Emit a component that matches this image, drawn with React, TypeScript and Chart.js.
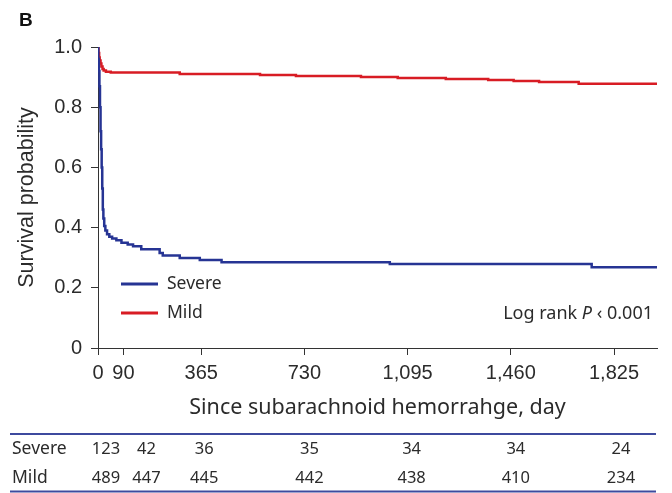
import React, { useEffect, useRef } from "react";
import { Chart, registerables } from "chart.js";

Chart.register(...registerables);

// ---- data ----
const seriesNames = ["Severe", "Mild"];
const severeDays = [0, 1, 3, 5, 7, 9, 11, 13, 15, 17, 19, 22, 26, 32, 40, 50, 65, 83, 105, 124, 153, 218, 229, 289, 360, 437, 1032, 1746, 1977];
const severeSurv = [1, 0.96, 0.92, 0.87, 0.8, 0.72, 0.66, 0.6, 0.53, 0.46, 0.43, 0.405, 0.39, 0.378, 0.37, 0.364, 0.358, 0.35, 0.344, 0.338, 0.328, 0.316, 0.307, 0.299, 0.292, 0.285, 0.279, 0.268, 0.268];
const mildDays = [0, 2, 4, 6, 9, 12, 16, 20, 28, 45, 289, 573, 700, 930, 1060, 1230, 1380, 1470, 1560, 1700, 1977];
const mildSurv = [1, 0.98, 0.965, 0.955, 0.945, 0.935, 0.927, 0.922, 0.918, 0.915, 0.91, 0.907, 0.904, 0.9, 0.897, 0.894, 0.89, 0.887, 0.884, 0.878, 0.878];
const xTickValues = [0, 90, 365, 730, 1095, 1460, 1825];
const yTickValues = [0, 0.2, 0.4, 0.6, 0.8, 1.0];
const riskDays = [0, 90, 365, 730, 1095, 1460, 1825];
const severeAtRisk = [123, 42, 36, 35, 34, 34, 24];
const mildAtRisk = [489, 447, 445, 442, 438, 410, 234];
const xTitle = "Since subarachnoid hemorrahge, day";
const yTitle = "Survival probability";
const panelLabel = "B";

// ---- styles ----
const BLUE = "rgb(38,52,148)";
const RED = "rgb(216,28,36)";
const TEXT = "#2b2b2b";
const TABLE_LINE = "rgb(62,74,158)";
const riskOffsets = [8, 23, 3, 5, 4, 5, 7];

const overlay = {
  id: "overlay",
  afterDraw(chart: any) {
    const ctx = chart.ctx;
    const xs = chart.scales.x;
    const area = chart.chartArea;
    ctx.save();
    // panel label
    ctx.fillStyle = "#111";
    ctx.font = 'bold 19px "Liberation Sans"';
    ctx.textAlign = "left";
    ctx.textBaseline = "alphabetic";
    ctx.fillText(panelLabel, 19, 26);

    // legend
    const colors = [BLUE, RED];
    const legY = [284, 313];
    ctx.font = '17.5px "Noto Sans"';
    ctx.textBaseline = "middle";
    seriesNames.forEach((name, i) => {
      ctx.strokeStyle = colors[i];
      ctx.lineWidth = 3;
      ctx.beginPath();
      ctx.moveTo(area.left + 23, legY[i]);
      ctx.lineTo(area.left + 60, legY[i]);
      ctx.stroke();
      ctx.fillStyle = TEXT;
      ctx.fillText(name, area.left + 69, legY[i]);
    });

    // log rank text (right aligned)
    const right = 653;
    const ly = 314;
    const partA = "Log rank ";
    const partP = "P";
    const partC = " \u2039 0.001";
    ctx.font = '18px "Noto Sans"';
    const wA = ctx.measureText(partA).width;
    const wC = ctx.measureText(partC).width;
    ctx.font = 'italic 18px "Noto Sans"';
    const wP = ctx.measureText(partP).width;
    const x0 = right - (wA + wP + wC);
    ctx.fillStyle = TEXT;
    ctx.textAlign = "left";
    ctx.font = '18px "Noto Sans"';
    ctx.fillText(partA, x0, ly);
    ctx.font = 'italic 18px "Noto Sans"';
    ctx.fillText(partP, x0 + wA, ly);
    ctx.font = '18px "Noto Sans"';
    ctx.fillText(partC, x0 + wA + wP, ly);

    // risk table
    ctx.strokeStyle = TABLE_LINE;
    ctx.lineWidth = 2;
    ctx.beginPath();
    ctx.moveTo(10, 434);
    ctx.lineTo(656, 434);
    ctx.moveTo(10, 491.5);
    ctx.lineTo(656, 491.5);
    ctx.stroke();
    ctx.font = '17.5px "Noto Sans"';
    ctx.fillStyle = TEXT;
    ctx.textAlign = "left";
    ctx.fillText(seriesNames[0], 12, 449);
    ctx.fillText(seriesNames[1], 12, 478);
    ctx.font = '16.5px "Noto Sans"';
    ctx.textAlign = "center";
    riskDays.forEach((d, i) => {
      const px = xs.getPixelForValue(d) + riskOffsets[i];
      ctx.fillText(String(severeAtRisk[i]), px, 449);
      ctx.fillText(String(mildAtRisk[i]), px, 478);
    });
    ctx.restore();
  },
};

export default function App() {
  const ref = useRef<HTMLCanvasElement>(null);
  useEffect(() => {
    if (!ref.current) return;
    const chart = new Chart(ref.current, {
      type: "line",
      data: {
        datasets: [
          {
            label: seriesNames[0],
            data: severeDays.map((d, i) => ({ x: d, y: severeSurv[i] })),
            borderColor: BLUE,
            borderWidth: 2.5,
            pointRadius: 0,
            stepped: "before",
            fill: false,
          },
          {
            label: seriesNames[1],
            data: mildDays.map((d, i) => ({ x: d, y: mildSurv[i] })),
            borderColor: RED,
            borderWidth: 2.5,
            pointRadius: 0,
            stepped: "before",
            fill: false,
          },
        ],
      },
      options: {
        responsive: false,
        animation: false,
        layout: { padding: { left: 0, top: 47, right: 15, bottom: 70 } },
        plugins: { legend: { display: false }, tooltip: { enabled: false } },
        scales: {
          x: {
            type: "linear",
            min: 0,
            max: 1977,
            afterBuildTicks: (s: any) => {
              s.ticks = xTickValues.map((v) => ({ value: v }));
            },
            afterFit: (s: any) => {
              s.height = 75;
            },
            ticks: {
              autoSkip: false,
              maxRotation: 0,
              padding: 6,
              color: TEXT,
              font: { family: "Liberation Sans", size: 20 },
              callback: (v: any) => Number(v).toLocaleString("en-US"),
            },
            grid: { drawOnChartArea: false, drawTicks: true, tickLength: 7, color: "#333", lineWidth: 1 },
            border: { display: true, color: "#333", width: 1 },
            title: {
              display: true,
              text: xTitle,
              color: TEXT,
              font: { family: "Noto Sans", size: 21.5 },
              padding: { top: 0, bottom: 2 },
            },
          },
          y: {
            min: 0,
            max: 1,
            afterBuildTicks: (s: any) => {
              s.ticks = yTickValues.map((v) => ({ value: v }));
            },
            afterFit: (s: any) => {
              s.width = 98;
            },
            ticks: {
              padding: 9,
              color: TEXT,
              font: { family: "Liberation Sans", size: 20 },
              callback: (v: any) => (Number(v) === 0 ? "0" : Number(v).toFixed(1)),
            },
            grid: { drawOnChartArea: false, drawTicks: true, tickLength: 7, color: "#333", lineWidth: 1 },
            border: { display: true, color: "#333", width: 1 },
            title: {
              display: true,
              text: yTitle,
              color: TEXT,
              font: { family: "Liberation Sans", size: 21.5 },
              padding: { top: 14, bottom: 0 },
            },
          },
        },
      },
      plugins: [overlay],
    } as any);
    return () => chart.destroy();
  }, []);
  return (
    <div style={{ position: "fixed", left: 0, top: 0, width: 672, height: 493, background: "#fff" }}>
      <canvas ref={ref} width={672} height={493} style={{ display: "block" }} />
    </div>
  );
}
